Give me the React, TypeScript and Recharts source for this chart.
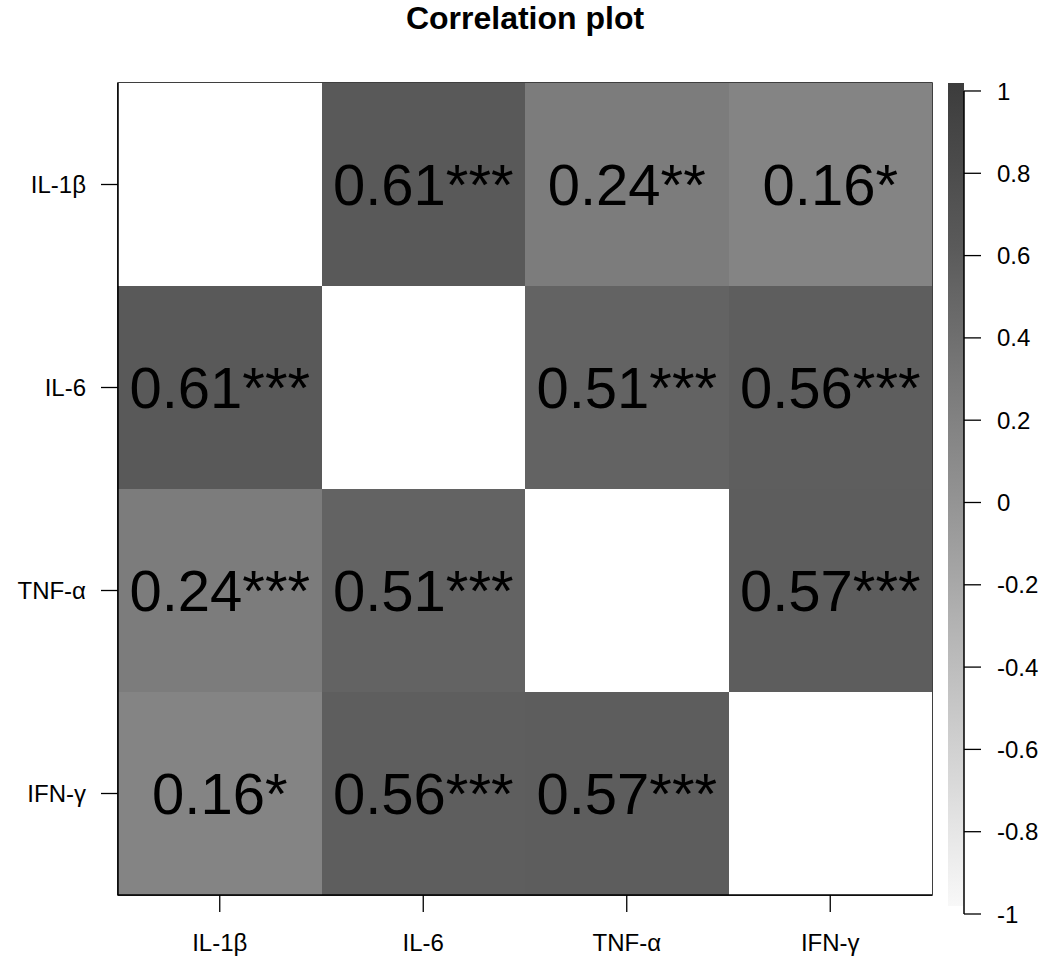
import React from "react";
import { BarChart, Bar, XAxis, YAxis, Cell, LabelList, ReferenceArea } from "recharts";

const variables = ["IL-1β", "IL-6", "TNF-α", "IFN-γ"];
const corr: (number | null)[][] = [
  [null, 0.61, 0.24, 0.16],
  [0.61, null, 0.51, 0.56],
  [0.24, 0.51, null, 0.57],
  [0.16, 0.56, 0.57, null],
];
const stars = [
  ["", "***", "**", "*"],
  ["***", "", "***", "***"],
  ["***", "***", "", "***"],
  ["*", "***", "***", ""],
];
const colorbarTicks = [1, 0.8, 0.6, 0.4, 0.2, 0, -0.2, -0.4, -0.6, -0.8, -1];
const colorbarRange = [-1, 1];

const FONT = "'Liberation Sans', Arial, Helvetica, sans-serif";

// gray level stops (value -> channel)
const grayStops: [number, number][] = [
  [1, 60],
  [0.6, 90],
  [0.16, 132],
  [0, 146],
  [-1, 248],
];
function grayOf(v: number | null): string {
  if (v === null) return "#ffffff";
  let g = grayStops[grayStops.length - 1][1];
  for (let i = 0; i < grayStops.length - 1; i++) {
    const [v1, g1] = grayStops[i];
    const [v2, g2] = grayStops[i + 1];
    if (v <= v1 && v >= v2) {
      g = g1 + ((v - v1) / (v2 - v1)) * (g2 - g1);
      break;
    }
  }
  const c = Math.round(g);
  return `rgb(${c},${c},${c})`;
}

const matrixData = variables.map((name, i) => {
  const row: any = { name };
  variables.forEach((_, j) => {
    row[`c${j}`] = 1;
    row[`l${j}`] = corr[i][j] === null ? "" : `${(corr[i][j] as number).toFixed(2)}${stars[i][j]}`;
  });
  return row;
});

const colorbarData = [{ name: "cb", range: colorbarRange }];

const gradientStops = Array.from({ length: 21 }, (_, k) => {
  const v = 1 - k * 0.1;
  return { offset: `${(k / 20) * 100}%`, color: grayOf(v) };
});

const renderCellLabel = (props: any) => {
  const { x, y, width, height, value } = props;
  if (!value) return null;
  return (
    <text
      x={x + width / 2}
      y={y + height / 2}
      textAnchor="middle"
      dominantBaseline="central"
      fontSize={58}
      fontFamily={FONT}
      fill="#000"
    >
      {value}
    </text>
  );
};

const boxLine = { stroke: "#000", strokeWidth: 1.5 };

export default function App() {
  return (
    <div style={{ position: "absolute", left: 0, top: 0, width: 1050, height: 968, background: "#fff", fontFamily: FONT }}>
      <svg width={1050} height={60} style={{ position: "absolute", left: 0, top: 0 }}>
        <text x={525} y={29} textAnchor="middle" fontSize={32} fontWeight="bold" fontFamily={FONT} fill="#000">
          Correlation plot
        </text>
      </svg>
      <div style={{ position: "absolute", left: 0, top: 0 }}>
        <BarChart
          width={1050}
          height={968}
          data={matrixData}
          layout="vertical"
          margin={{ top: 83, right: 118, bottom: 0, left: 0 }}
          barCategoryGap={0}
        >
          <XAxis
            type="number"
            domain={[0, 4]}
            ticks={[0.5, 1.5, 2.5, 3.5]}
            tickFormatter={(v: number) => variables[Math.floor(v)]}
            height={73}
            tickSize={17}
            tickMargin={22}
            axisLine={boxLine}
            tickLine={{ stroke: "#000", strokeWidth: 1.3 }}
            tick={{ fill: "#000", fontSize: 24, fontFamily: FONT }}
            interval={0}
          />
          <YAxis
            type="category"
            dataKey="name"
            width={118}
            tickSize={17}
            tickMargin={15}
            axisLine={boxLine}
            tickLine={{ stroke: "#000", strokeWidth: 1.3 }}
            tick={{ fill: "#000", fontSize: 24, fontFamily: FONT }}
            interval={0}
          />
          {variables.map((_, j) => (
            <Bar key={j} dataKey={`c${j}`} stackId="m" isAnimationActive={false}>
              {matrixData.map((_, i) => (
                <Cell key={i} fill={grayOf(corr[i][j])} shapeRendering="crispEdges" />
              ))}
              <LabelList dataKey={`l${j}`} content={renderCellLabel} />
            </Bar>
          ))}
          <ReferenceArea x1={0} x2={4} fill="none" fillOpacity={0} stroke="#000" strokeWidth={1.5} ifOverflow="visible" />
        </BarChart>
      </div>
      <div style={{ position: "absolute", left: 0, top: 0 }}>
        <BarChart
          width={1050}
          height={968}
          data={colorbarData}
          margin={{ top: 83, right: 0, bottom: 54, left: 948 }}
          barCategoryGap={0}
        >
          <defs>
            <linearGradient id="cbGrad" x1="0" y1="0" x2="0" y2="1">
              {gradientStops.map((s, k) => (
                <stop key={k} offset={s.offset} stopColor={s.color} />
              ))}
            </linearGradient>
          </defs>
          <XAxis dataKey="name" type="category" hide />
          <YAxis yAxisId="bar" type="number" domain={[-1.0194, 1]} hide />
          <YAxis
            yAxisId="tick"
            orientation="right"
            type="number"
            domain={[-1, 1.0194]}
            ticks={colorbarTicks}
            tickFormatter={(v: number) => String(Math.round(v * 10) / 10)}
            width={86}
            tickSize={17}
            tickMargin={16}
            axisLine={{ stroke: "#000", strokeWidth: 1.5, strokeDasharray: "0 8 2000" }}
            tickLine={{ stroke: "#000", strokeWidth: 1.3 }}
            tick={{ fill: "#000", fontSize: 24, fontFamily: FONT, textAnchor: "start" }}
            interval={0}
            allowDataOverflow
          />
          <Bar yAxisId="bar" dataKey="range" fill="url(#cbGrad)" isAnimationActive={false} />
        </BarChart>
      </div>
    </div>
  );
}
